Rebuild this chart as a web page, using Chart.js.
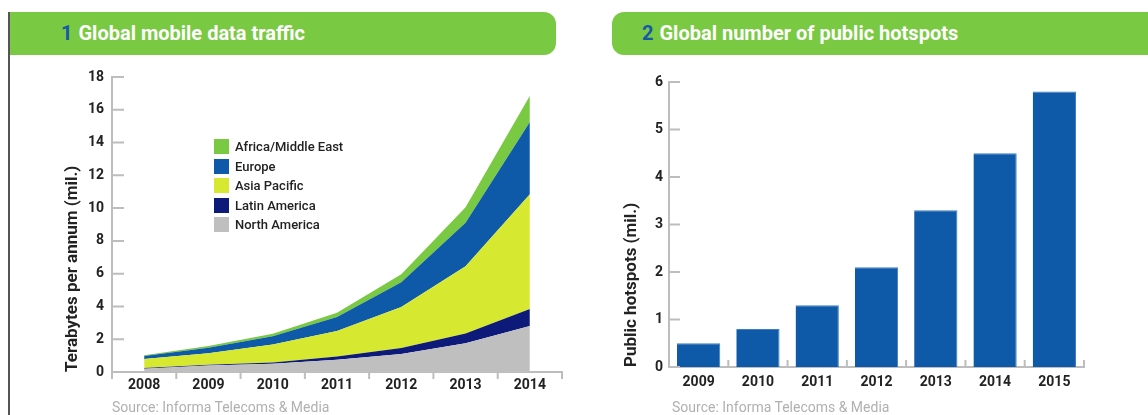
<!DOCTYPE html>
<html>
<head>
<meta charset="utf-8">
<script src="https://cdn.jsdelivr.net/npm/chart.js@4/dist/chart.umd.min.js"></script>
<style>
  body { margin: 0; width: 1148px; height: 415px; background: #fff; overflow: hidden; position: relative; font-family: Roboto, sans-serif; }
  .rule { position: absolute; left: 8px; top: 12px; width: 2px; height: 403px; background: #555; }
  .banner { position: absolute; top: 12px; height: 43px; background: #7AC943; color: #fff; font-size: 20px; font-weight: bold; line-height: 43px; white-space: nowrap; }
  .banner .num { color: #1459A8; margin-right: 6px; }
  #banner1 { left: 10px; width: 546px; border-radius: 0 12px 12px 0; }
  #banner1 span.wrap { position: absolute; left: 51px; }
  #banner2 { left: 612px; width: 560px; border-radius: 12px 0 0 12px; }
  #banner2 span.wrap { position: absolute; left: 30px; }
  .box { position: absolute; top: 60px; height: 355px; }
  #box1 { left: 0; width: 580px; }
  #box2 { left: 590px; width: 558px; }
  .source { position: absolute; top: 399px; font-size: 14px; color: #B0B0B0; }
  #legend { position: absolute; left: 214px; top: 137px; }
  #legend div { height: 19.5px; display: flex; align-items: center; font-size: 13px; font-weight: 500; color: #222; }
  #legend i { display: inline-block; width: 15px; height: 15px; margin-right: 6px; }
</style>
</head>
<body>
<div class="rule"></div>
<div class="banner" id="banner1"><span class="wrap"><span class="num">1</span>Global mobile data traffic</span></div>
<div class="banner" id="banner2"><span class="wrap"><span class="num">2</span>Global number of public hotspots</span></div>
<div class="box" id="box1"><canvas id="traffic"></canvas></div>
<div class="box" id="box2"><canvas id="hotspots"></canvas></div>
<div id="legend"></div>
<div class="source" style="left:112px">Source: Informa Telecoms &amp; Media</div>
<div class="source" style="left:672px">Source: Informa Telecoms &amp; Media</div>
<script>
// chart 1: mobile data traffic, terabytes per annum (mil.), stacked
const years = ["2008", "2009", "2010", "2011", "2012", "2013", "2014"];
const northAmerica = [0.2, 0.4, 0.5, 0.75, 1.1, 1.75, 2.8];
const latinAmerica = [0.05, 0.05, 0.08, 0.2, 0.37, 0.6, 1.05];
const asiaPacific = [0.55, 0.7, 1.1, 1.55, 2.5, 4.1, 7.0];
const europe = [0.17, 0.33, 0.5, 0.85, 1.5, 2.65, 4.4];
const africaMiddleEast = [0.05, 0.1, 0.16, 0.27, 0.5, 0.95, 1.6];

// chart 2: public hotspots (mil.)
const hotspotYears = ["2009", "2010", "2011", "2012", "2013", "2014", "2015"];
const hotspots = [0.5, 0.8, 1.3, 2.1, 3.3, 4.5, 5.8];

const axisGray = "#BDBDBD";
const textDark = "#222";

Chart.defaults.font.family = "Roboto, sans-serif";
Chart.defaults.color = textDark;

// small tick marks like the print version
const tickMarks = {
  id: "tickMarks",
  afterDatasetsDraw(chart, args, opts) {
    const { ctx, chartArea, scales: { x, y } } = chart;
    ctx.save();
    ctx.strokeStyle = axisGray;
    ctx.lineWidth = 2;
    ctx.beginPath();
    y.ticks.forEach((t, i) => {
      const py = y.getPixelForTick(i);
      ctx.moveTo(chartArea.left, py);
      ctx.lineTo(chartArea.left + opts.yLen, py);
    });
    for (let i = 0; i <= x.ticks.length; i++) {
      const px = x.getPixelForValue(i - 0.5);
      ctx.moveTo(px, chartArea.bottom);
      ctx.lineTo(px, chartArea.bottom + opts.xLen);
    }
    ctx.stroke();
    ctx.restore();
  }
};

const series = [
  { label: "North America", data: northAmerica, color: "#BFBFBF" },
  { label: "Latin America", data: latinAmerica, color: "#0D1A79" },
  { label: "Asia Pacific", data: asiaPacific, color: "#D6E82F" },
  { label: "Europe", data: europe, color: "#0F5AA8" },
  { label: "Africa/Middle East", data: africaMiddleEast, color: "#7AC943" }
];

const legend = document.getElementById("legend");
series.slice().reverse().forEach(s => {
  const row = document.createElement("div");
  row.innerHTML = `<i style="background:${s.color}"></i>${s.label}`;
  legend.appendChild(row);
});

const noGrid = { display: false, drawTicks: false };

new Chart(document.getElementById("traffic"), {
  type: "line",
  data: {
    labels: years,
    datasets: series.map((s, i) => ({
      label: s.label,
      data: s.data,
      backgroundColor: s.color,
      borderWidth: 0,
      pointRadius: 0,
      tension: 0,
      fill: i === 0 ? "origin" : "-1"
    }))
  },
  options: {
    responsive: true,
    maintainAspectRatio: false,
    animation: false,
    layout: { padding: { top: 17, right: 18, left: 0, bottom: 0 } },
    plugins: {
      legend: { display: false },
      tooltip: { enabled: false },
      tickMarks: { yLen: 12, xLen: 7 }
    },
    scales: {
      x: {
        offset: true,
        grid: noGrid,
        border: { color: axisGray, width: 2 },
        ticks: { font: { size: 14, weight: "bold" }, padding: 5, maxRotation: 0 },
        afterFit: s => { s.height = 43; }
      },
      y: {
        stacked: true,
        min: 0,
        max: 18,
        grid: noGrid,
        border: { color: axisGray, width: 2 },
        ticks: { stepSize: 2, font: { size: 14, weight: "bold" }, padding: 8 },
        title: {
          display: true,
          text: "Terabytes per annum (mil.)",
          align: "start",
          font: { size: 17, weight: "bold" },
          padding: { top: 63 }
        },
        afterFit: s => { s.width = 112; }
      }
    }
  },
  plugins: [tickMarks]
});

new Chart(document.getElementById("hotspots"), {
  type: "bar",
  data: {
    labels: hotspotYears,
    datasets: [{
      label: "Public hotspots (mil.)",
      data: hotspots,
      backgroundColor: "#0F5AA8",
      borderColor: "#3D7CC0",
      borderWidth: { top: 1, right: 1, left: 0, bottom: 0 },
      barPercentage: 0.82,
      categoryPercentage: 0.89
    }]
  },
  options: {
    responsive: true,
    maintainAspectRatio: false,
    animation: false,
    layout: { padding: { top: 22, right: 64, left: 0, bottom: 0 } },
    plugins: {
      legend: { display: false },
      tooltip: { enabled: false },
      tickMarks: { yLen: 11, xLen: -7 }
    },
    scales: {
      x: {
        grid: noGrid,
        border: { color: axisGray, width: 2 },
        ticks: { font: { size: 14, weight: "bold" }, padding: 7, maxRotation: 0 },
        afterFit: s => { s.height = 48; }
      },
      y: {
        min: 0,
        max: 6,
        grid: noGrid,
        border: { color: axisGray, width: 2 },
        ticks: { stepSize: 1, font: { size: 14, weight: "bold" }, padding: 6 },
        title: {
          display: true,
          text: "Public hotspots (mil.)",
          align: "start",
          font: { size: 17, weight: "bold" },
          padding: { top: 32 }
        },
        afterFit: s => { s.width = 79; }
      }
    }
  },
  plugins: [tickMarks]
});
</script>
</body>
</html>
